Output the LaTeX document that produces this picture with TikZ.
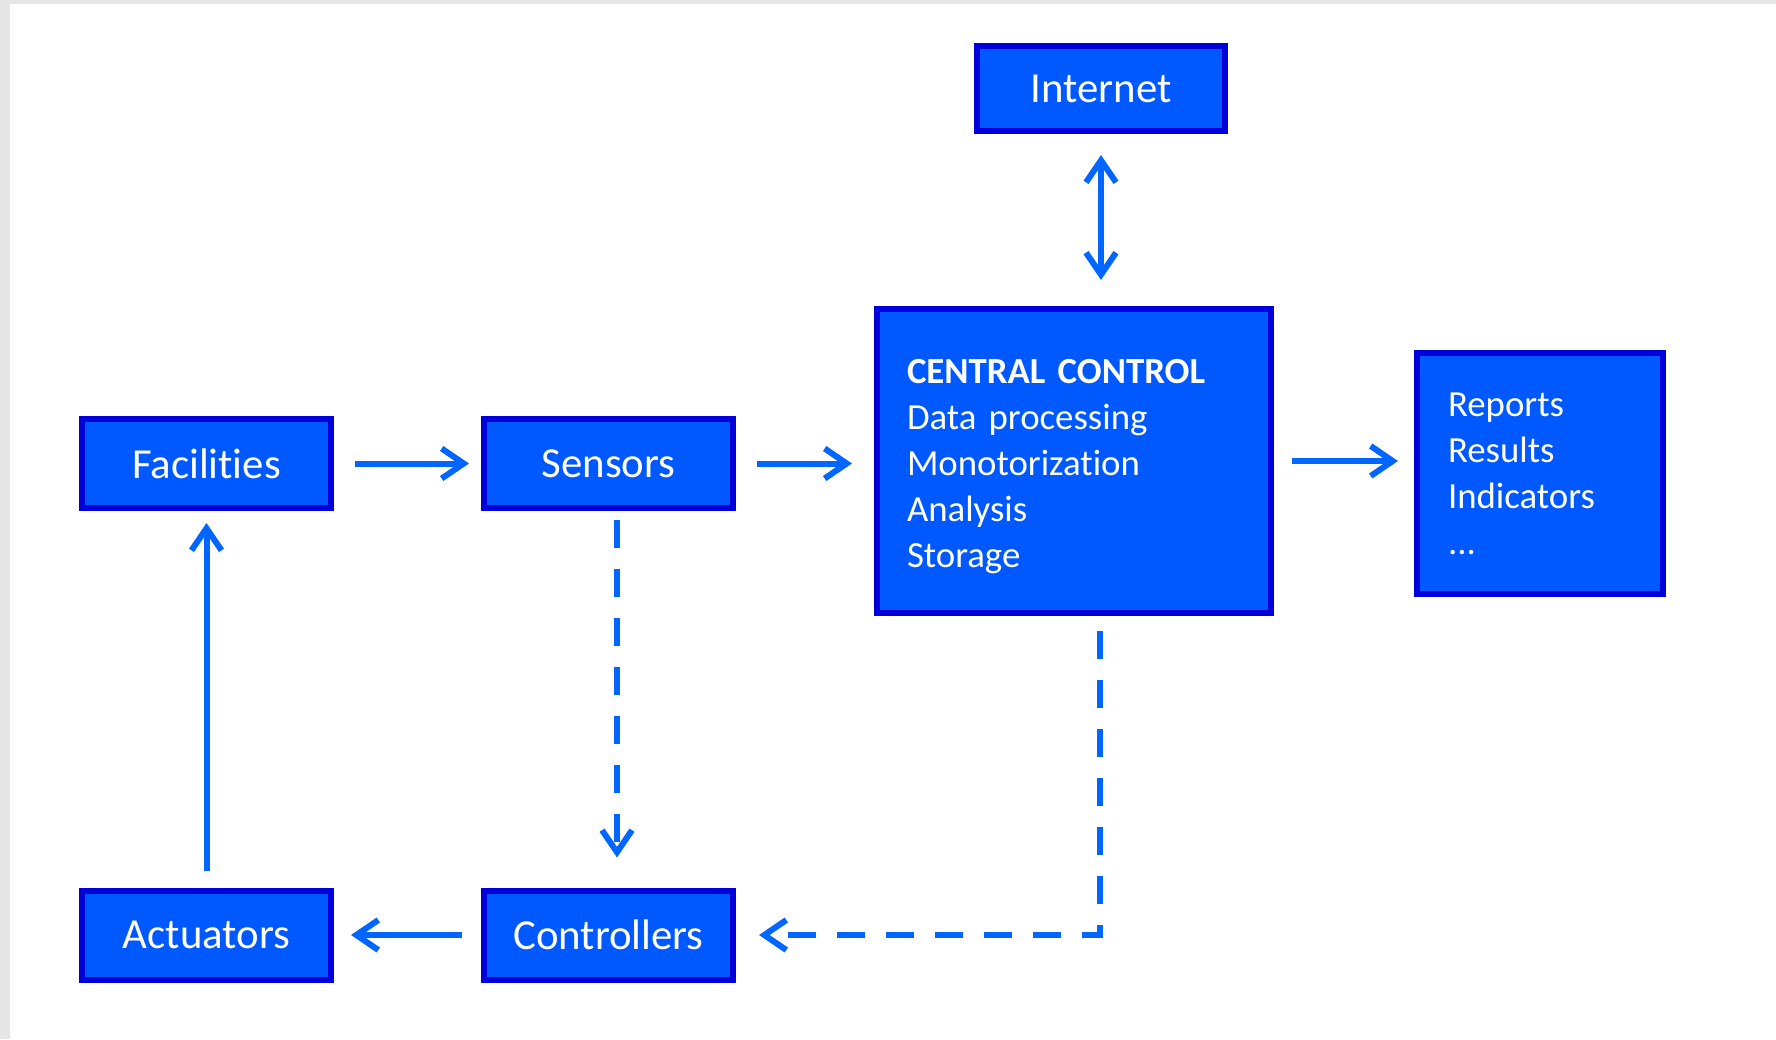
\documentclass[tikz,border=0pt]{standalone}
\usepackage{fontspec}
\setmainfont{Carlito}[Ligatures=NoCommon]
\usepackage{tikz}
\usetikzlibrary{arrows.meta}
\definecolor{boxblue}{RGB}{0,88,255}
\definecolor{edgeblue}{RGB}{0,0,218}
\definecolor{flowblue}{RGB}{0,102,255}
\tikzstyle{box}=[rectangle,draw=edgeblue,line width=3pt,fill=boxblue,text=white,font=\fontsize{21.4}{25}\selectfont,minimum width=124.5pt,minimum height=44.5pt,inner sep=0pt]
\tikzstyle{listbox}=[box,align=left,font=\fontsize{18.4}{23}\selectfont]
\tikzstyle{flow}=[-{Straight Barb[length=11pt,width=15pt]},line width=3pt,flowblue]
\tikzstyle{twoway}=[{Straight Barb[length=11pt,width=15pt]}-{Straight Barb[length=11pt,width=15pt]},line width=3pt,flowblue]
\tikzstyle{signal}=[flow,dash pattern=on 14pt off 10.5pt]

\begin{document}
\begin{tikzpicture}[x=0.5pt,y=-0.5pt]

  \useasboundingbox (0,0) rectangle (1776,1039);
  \fill[gray!20] (0,0) rectangle (1776,4);
  \fill[gray!20] (0,0) rectangle (10,1039);

  \node[box] (F) at (206.5,463.5) {Facilities};
  \node[box] (S) at (608.5,463.5) {Sensors};
  \node[box] (A) at (206.5,935) {Actuators};
  \node[box] (Ct) at (608.5,935) {Controllers};
  \node[box,minimum width=124pt,minimum height=42.5pt] (I) at (1101,88.5) {Internet};
  \node[listbox,minimum width=197pt,minimum height=152pt,inner xsep=15pt,text width=167pt] (CC) at (1074,461)
    {\rule{0pt}{18pt}\textbf{CENTRAL CONTROL}\\Data processing\\Monotorization\\Analysis\\Storage};
  \node[listbox,minimum width=123pt,minimum height=120.5pt,inner xsep=15.5pt,text width=92pt] (R) at (1540,473.5)
    {Reports\\Results\\Indicators\\...};

  \draw[flow,shorten <=10.5pt,shorten >=6pt] (F.east)--(S.west);
  \draw[flow,shorten <=10.5pt,shorten >=11pt] (S.east)--(S.east -| CC.west);
  \draw[flow,shorten <=9pt,shorten >=8pt] (CC.east)--(CC.east -| R.west);
  \draw[twoway,shorten <=10.5pt,shorten >=13pt] (I.south)--(I.south |- CC.north);
  \draw[flow,shorten <=8.5pt,shorten >=6pt] (A.north)--(F.south);
  \draw[flow,shorten <=9.5pt,shorten >=8.5pt] (Ct.west)--(A.east);

  \draw[signal,shorten <=4.5pt,shorten >=15pt] ([xshift=4.25pt]S.south)--([xshift=4.25pt]Ct.north);
  \draw[signal,shorten <=7.5pt,shorten >=11.5pt] ([xshift=13pt]CC.south) |- (Ct.east);

\end{tikzpicture}
\end{document}
